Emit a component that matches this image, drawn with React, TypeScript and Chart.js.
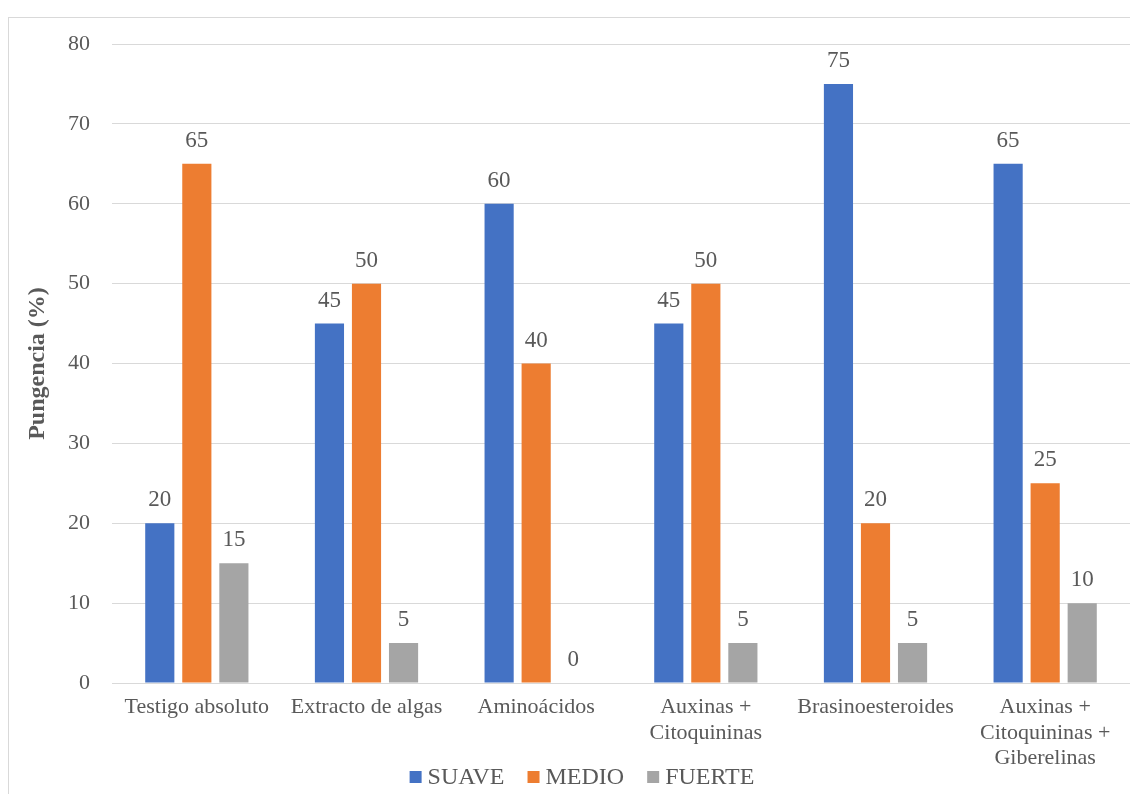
import { useEffect, useRef } from 'react';
import { Chart, registerables } from 'chart.js';

Chart.register(...registerables);

const categories: (string | string[])[] = [
  'Testigo absoluto',
  'Extracto de algas',
  'Aminoácidos',
  ['Auxinas +', 'Citoquininas'],
  'Brasinoesteroides',
  ['Auxinas +', 'Citoquininas +', 'Giberelinas'],
];
const suave = [20, 45, 60, 45, 75, 65];
const medio = [65, 50, 40, 50, 20, 25];
const fuerte = [15, 5, 0, 5, 5, 10];
const seriesNames = ['SUAVE', 'MEDIO', 'FUERTE'];
const seriesColors = ['#4472C4', '#ED7D31', '#A5A5A5'];
const yTitle = 'Pungencia (%)';

const FONT = "'Liberation Serif', 'Times New Roman', serif";
const TEXT = '#595959';
const GRID = '#D9D9D9';

const framePlugin = {
  id: 'frame',
  beforeDraw(chart: any) {
    const ctx = chart.ctx;
    ctx.save();
    ctx.fillStyle = '#FFFFFF';
    ctx.fillRect(0, 0, chart.width, chart.height);
    ctx.strokeStyle = GRID;
    ctx.lineWidth = 1;
    ctx.strokeRect(8.5, 17.5, chart.width + 20, chart.height + 20);
    ctx.restore();
  },
};

const valueLabelPlugin = {
  id: 'valueLabels',
  afterDatasetsDraw(chart: any) {
    const ctx = chart.ctx;
    ctx.save();
    ctx.font = `23px ${FONT}`;
    ctx.fillStyle = TEXT;
    ctx.textAlign = 'center';
    ctx.textBaseline = 'middle';
    chart.data.datasets.forEach((ds: any, i: number) => {
      const meta = chart.getDatasetMeta(i);
      meta.data.forEach((el: any, j: number) => {
        ctx.fillText(String(ds.data[j]), el.x, el.y - 23);
      });
    });
    ctx.restore();
  },
};

const legendPlugin = {
  id: 'customLegend',
  afterDraw(chart: any) {
    const ctx = chart.ctx;
    ctx.save();
    ctx.font = `24px ${FONT}`;
    ctx.textBaseline = 'middle';
    ctx.textAlign = 'left';
    const box = 12;
    const gapBoxText = 6;
    const gapItems = 23;
    const widths = seriesNames.map((n) => box + gapBoxText + ctx.measureText(n).width);
    const total = widths.reduce((a, b) => a + b, 0) + gapItems * (widths.length - 1);
    let x = 582 - total / 2;
    const cy = 777;
    seriesNames.forEach((n, i) => {
      ctx.fillStyle = seriesColors[i];
      ctx.fillRect(x, cy - box / 2, box, box);
      ctx.fillStyle = TEXT;
      ctx.fillText(n, x + box + gapBoxText, cy + 1);
      x += widths[i] + gapItems;
    });
    ctx.restore();
  },
};

export default function App() {
  const ref = useRef<HTMLCanvasElement | null>(null);

  useEffect(() => {
    if (!ref.current) return;
    const chart = new Chart(ref.current, {
      type: 'bar',
      data: {
        labels: categories,
        datasets: [suave, medio, fuerte].map((d, i) => ({
          label: seriesNames[i],
          data: d,
          backgroundColor: seriesColors[i],
          borderWidth: 0,
          categoryPercentage: 0.655,
          barPercentage: 0.787,
        })),
      },
      options: {
        animation: false,
        responsive: false,
        devicePixelRatio: 1,
        layout: { padding: { top: 44, left: 0, right: -2, bottom: 0 } },
        plugins: {
          legend: { display: false },
          tooltip: { enabled: false },
        },
        scales: {
          x: {
            grid: { display: false, drawTicks: false },
            border: { display: false },
            ticks: {
              font: { family: FONT, size: 22, lineHeight: 1.15 },
              color: TEXT,
              padding: 12,
              maxRotation: 0,
              minRotation: 0,
              autoSkip: false,
            },
            afterFit(scale: any) {
              scale.height = 111;
            },
          },
          y: {
            min: 0,
            max: 80,
            ticks: {
              stepSize: 10,
              font: { family: FONT, size: 22 },
              color: TEXT,
              padding: 22,
            },
            grid: { color: GRID, lineWidth: 1, drawTicks: false },
            border: { display: false },
            title: {
              display: true,
              text: yTitle,
              font: { family: FONT, size: 24, weight: 'bold', lineHeight: 1.2 },
              color: TEXT,
              padding: { top: 23, bottom: 0 },
            },
            afterFit(scale: any) {
              scale.width = 112;
            },
          },
        },
      },
      plugins: [framePlugin, valueLabelPlugin, legendPlugin],
    });
    return () => chart.destroy();
  }, []);

  return (
    <div style={{ position: 'absolute', left: 0, top: 0, width: 1130, height: 794 }}>
      <canvas ref={ref} width={1130} height={794} style={{ display: 'block' }} />
    </div>
  );
}
